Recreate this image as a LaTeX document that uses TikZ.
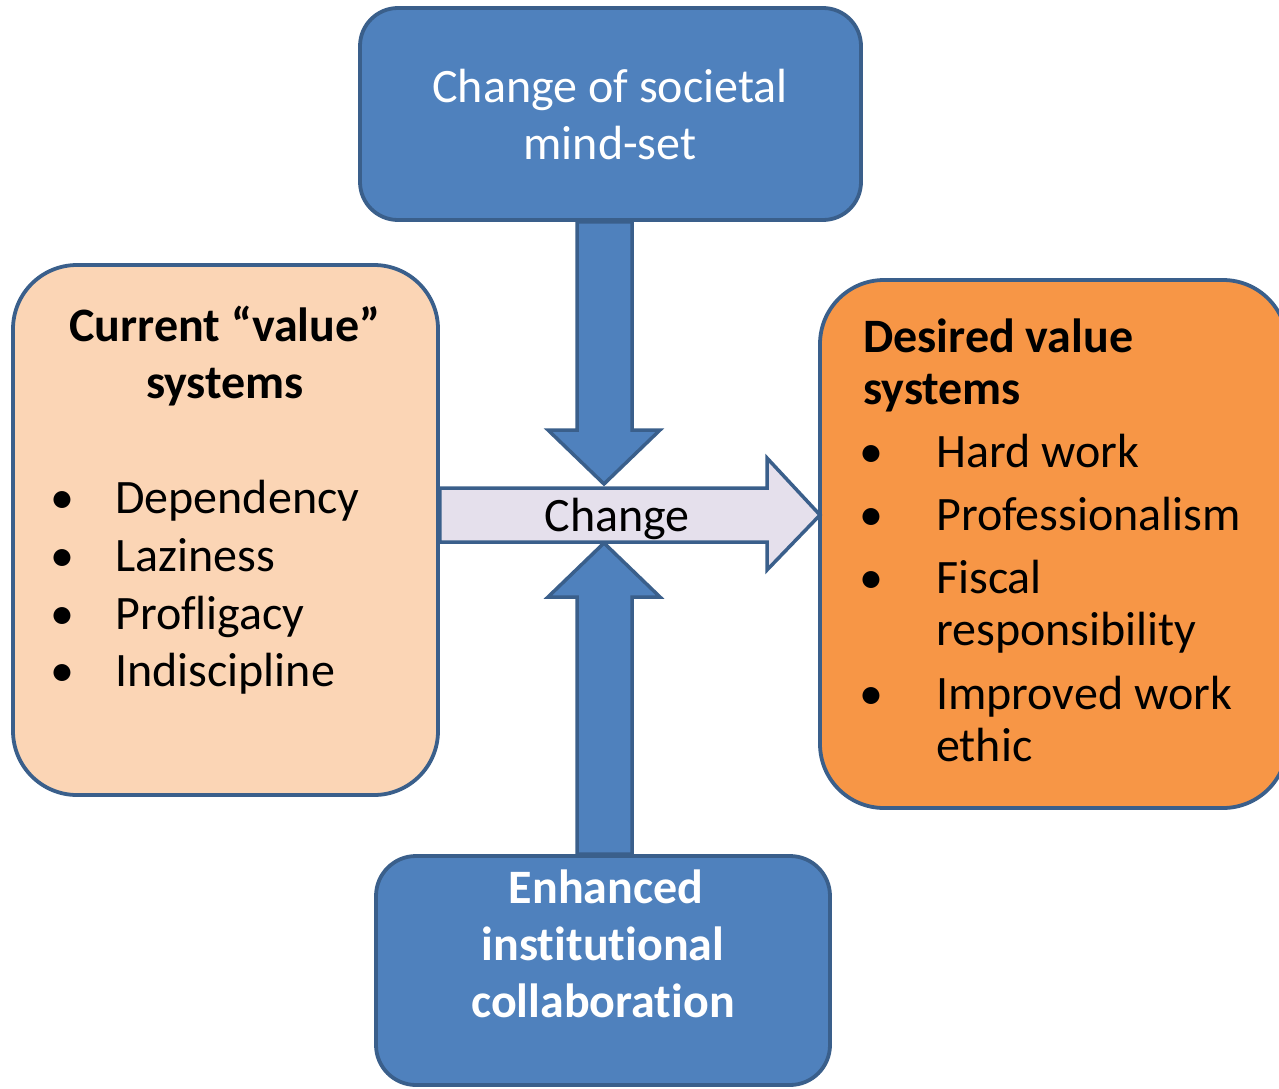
\documentclass[tikz,border=0pt]{standalone}
\usepackage{fontspec}
\setmainfont{Carlito}[Ligatures=NoCommon]
\usetikzlibrary{positioning,backgrounds}

\definecolor{boxblue}{HTML}{4F81BD}
\definecolor{edgeblue}{HTML}{3A5F8B}
\definecolor{peach}{HTML}{FBD5B5}
\definecolor{deskorange}{HTML}{F79646}
\definecolor{lavender}{HTML}{E5E0EC}

\tikzset{
  roundbox/.style={draw=edgeblue, line width=3.8pt, inner sep=0pt},
  txt/.style={font=\fontsize{48}{58}\selectfont, inner sep=0pt},
  boldtxt/.style={txt, font=\fontsize{48}{58}\selectfont\bfseries},
  blockarrow/.style={draw=edgeblue, line width=3.5pt, line join=miter},
}

\begin{document}
\begin{tikzpicture}[x=1pt,y=-1pt]
\useasboundingbox (0,0) rectangle (1279,1089);

% Boxes
\node[roundbox, fill=boxblue, rounded corners=38pt, minimum width=501pt, minimum height=212pt] (societal) at (610.5,114) {};
\node[roundbox, fill=peach, rounded corners=64pt, minimum width=425pt, minimum height=530pt] (current) at (225.5,530) {};
\node[roundbox, fill=deskorange, rounded corners=64pt, minimum width=467pt, minimum height=528pt] (desired) at (1053.5,544) {};
\node[roundbox, fill=boxblue, rounded corners=40pt, minimum width=454pt, minimum height=229pt] (collab) at (603,970.5) {};

% Arrows
\begin{scope}[on background layer]
\draw[blockarrow, fill=boxblue] (societal.south -| 577,0) -- (577,430) -- (548,430) -- (604,484)
   -- (660,430) -- (632,430) -- (societal.south -| 632,0) -- cycle;
\draw[blockarrow, fill=boxblue] (collab.north -| 577,0) -- (577,597) -- (548,597) -- (604,543)
   -- (660,597) -- (632,597) -- (collab.north -| 632,0) -- cycle;
\end{scope}
\draw[blockarrow, fill=lavender] (current.east |- 0,488) -- (767,488) -- (767,458) -- (820,515)
   -- (767,570) -- (767,542) -- (current.east |- 0,542) -- cycle;
\node[txt, anchor=base] (change) at (617,531) {Change};

% Top and bottom text
\node[txt, anchor=base, white] (soc1) at (610,103) {Change of societal};
\node[txt, anchor=base, white] (soc2) at (610,160) {mind-set};
\node[boldtxt, anchor=base, white] (col1) at (606,903) {Enhanced};
\node[boldtxt, anchor=base, white] (col2) at (603,960) {institutional};
\node[boldtxt, anchor=base, white] (col3) at (603,1017) {collaboration};

% Current values
\node[boldtxt, anchor=base] (cur1) at (225,341) {Current “value”};
\node[boldtxt, anchor=base] (cur2) at (225,398) {systems};
\foreach \y/\t [count=\i] in {513/Dependency, 571/Laziness, 629/Profligacy, 686/Indiscipline} {
   \node[txt, anchor=base west] (curitem\i) at (115,\y) {\t};
   \node[txt, anchor=base] (curbul\i) at (62,\y) {\textbullet};
}

% Desired values
\node[boldtxt, anchor=base west] (des1) at (863,352) {Desired value};
\node[boldtxt, anchor=base west] (des2) at (863,404) {systems};
\foreach \y/\t [count=\i] in {467/Hard work, 530/Professionalism, 593/Fiscal, 645/responsibility, 709/Improved work, 761/ethic}
   \node[txt, anchor=base west] (desitem\i) at (936,\y) {\t};
\foreach \y [count=\i] in {467,530,593,709}
   \node[txt, anchor=base] (desbul\i) at (871,\y) {\textbullet};

\end{tikzpicture}
\end{document}
